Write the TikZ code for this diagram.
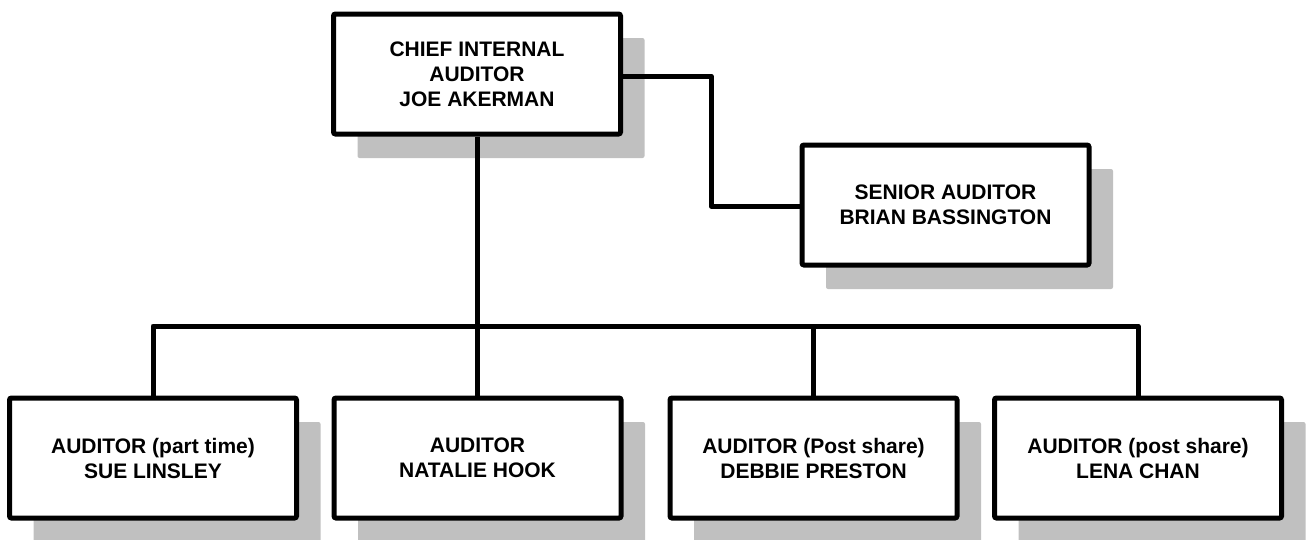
\documentclass[tikz,border=0pt]{standalone}
\usepackage{fontspec}
\setmainfont{Liberation Sans}
\usetikzlibrary{shadows}
\definecolor{shadowgray}{RGB}{192,192,192}
\tikzset{
  orgbox/.style={draw=black, line width=5pt, fill=white, rounded corners=2pt,
    minimum width=287pt, minimum height=120pt, inner sep=0pt,
    align=center, font=\fontsize{21}{25}\selectfont\bfseries,
    drop shadow={shadow xshift=24pt, shadow yshift=-24pt, fill=shadowgray, opacity=1, rounded corners=0pt}},
  link/.style={draw=black, line width=5pt, line join=round}
}
\begin{document}
\begin{tikzpicture}[x=1pt,y=-1pt]
\useasboundingbox (0,0) rectangle (1306,539);
\node[orgbox] (chief) at (477,74) {CHIEF INTERNAL\\AUDITOR\\JOE AKERMAN};
\node[orgbox] (senior) at (945.5,205) {SENIOR AUDITOR\\BRIAN BASSINGTON};
\node[orgbox] (a1) at (153,458) {AUDITOR (part time)\\SUE LINSLEY};
\node[orgbox] (a2) at (477.5,458) {AUDITOR\\NATALIE HOOK};
\node[orgbox] (a3) at (813.5,458) {AUDITOR (Post share)\\DEBBIE PRESTON};
\node[orgbox] (a4) at (1138,458) {AUDITOR (post share)\\LENA CHAN};
\coordinate (bus) at (477,326);
\draw[link] (chief.east |- 0,76) -| (711,206) -- (senior.west |- 0,206);
\draw[link] (chief.south) -- (chief.south |- a2.north);
\draw[link] (a1.north) |- (bus) -| (a4.north);
\draw[link] (a3.north) -- (a3.north |- bus);
\end{tikzpicture}
\end{document}
